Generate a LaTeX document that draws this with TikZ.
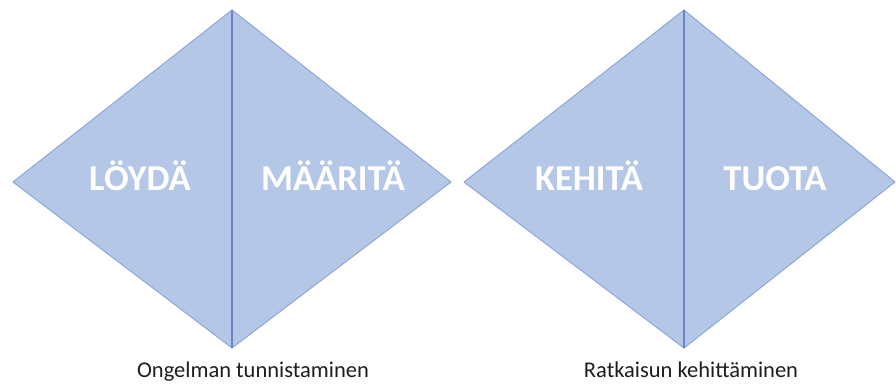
\documentclass[tikz,border=0pt]{standalone}
\usepackage{fontspec}
\setmainfont{Carlito}
\usetikzlibrary{calc}
\definecolor{diaFill}{HTML}{B4C7E7}
\definecolor{diaEdge}{HTML}{8FA8D8}
\definecolor{diaMid}{HTML}{6A86C2}
\definecolor{capInk}{HTML}{1E1E1E}
\begin{document}
\begin{tikzpicture}[x=1pt,y=-1pt,line join=round]
\path[fill=white] (0,0) rectangle (896,383);
\useasboundingbox (0,0) rectangle (896,383);
\tikzset{half/.style={fill=diaFill,draw=diaEdge,line width=1pt},midline/.style={draw=diaMid,line width=1.1pt},phase/.style={text=white,font=\bfseries\fontsize{36.5}{40}\selectfont,anchor=base},caption/.style={text=capInk,font=\fontsize{22.5}{26}\selectfont,anchor=base}}
% left diamond
\coordinate (lW) at (13,182); \coordinate (lN) at (232,10);
\coordinate (lE) at (451,182); \coordinate (lS) at (232,348);
\path[half] (lW) -- (lN) -- (lS) -- cycle;
\path[half] (lN) -- (lE) -- (lS) -- cycle;
\draw[midline] (lN) -- (lS);
% right diamond
\coordinate (rW) at (464,182); \coordinate (rN) at (684,10);
\coordinate (rE) at (895,182); \coordinate (rS) at (684,348);
\path[half] (rW) -- (rN) -- (rS) -- cycle;
\path[half] (rN) -- (rE) -- (rS) -- cycle;
\draw[midline] (rN) -- (rS);
\node[phase] (loyda) at (140,190) {LÖYDÄ};
\node[phase] (maarita) at (333,190) {MÄÄRITÄ};
\node[phase] (kehita) at (589,190) {KEHITÄ};
\node[phase] (tuota) at (775,190) {TUOTA};
\node[caption] (ongelma) at (253,377) {Ongelman tunnistaminen};
\node[caption] (ratkaisu) at (691,377) {Ratkaisun kehittäminen};
\end{tikzpicture}
\end{document}
